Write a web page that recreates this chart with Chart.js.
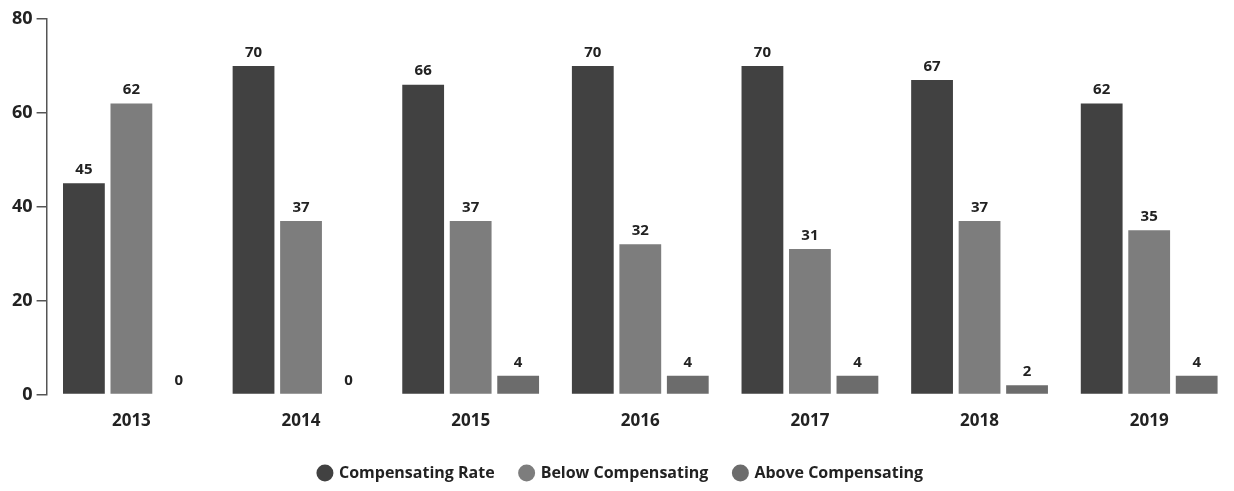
<!DOCTYPE html>
<html>
<head>
<meta charset="utf-8">
<script src="https://cdn.jsdelivr.net/npm/chart.js@4/dist/chart.umd.min.js"></script>
<style>
html,body{margin:0;padding:0;background:#fff;}
#wrap{width:1234px;height:491px;}
</style>
</head>
<body>
<div id="wrap"><canvas id="c" width="1234" height="491"></canvas></div>
<script>
const categories = ['2013','2014','2015','2016','2017','2018','2019'];
const compensatingRate = [45,70,66,70,70,67,62];
const belowCompensating = [62,37,37,32,31,37,35];
const aboveCompensating = [0,0,4,4,4,2,4];
const yTicks = [0,20,40,60,80];

const FONT = '"Open Sans", "Noto Sans", sans-serif';

const valueLabels = {
  id:'valueLabels',
  afterDatasetsDraw(chart){
    const ctx = chart.ctx;
    ctx.save();
    ctx.font = '700 15px ' + FONT;
    ctx.fillStyle = '#222';
    ctx.textAlign = 'center';
    ctx.textBaseline = 'bottom';
    chart.data.datasets.forEach((ds,i)=>{
      const meta = chart.getDatasetMeta(i);
      meta.data.forEach((el,j)=>{
        ctx.fillText(String(ds.data[j]), el.x, el.y - 6);
      });
    });
    ctx.restore();
  }
};

new Chart(document.getElementById('c'),{
  type:'bar',
  data:{
    labels:categories,
    datasets:[
      {label:'Compensating Rate', data:compensatingRate, backgroundColor:'#414141'},
      {label:'Below Compensating', data:belowCompensating, backgroundColor:'#7d7d7d'},
      {label:'Above Compensating', data:aboveCompensating, backgroundColor:'#6c6c6c'}
    ]
  },
  options:{
    responsive:false,
    animation:false,
    layout:{padding:{top:19,right:0,left:8,bottom:0}},
    datasets:{bar:{categoryPercentage:0.84,barPercentage:0.88}},
    plugins:{
      legend:{
        position:'bottom',
        labels:{usePointStyle:true,pointStyle:'circle',boxWidth:12,boxHeight:12,padding:26,color:'#222',font:{family:FONT,size:16,weight:'700'}}
      },
      tooltip:{enabled:false}
    },
    scales:{
      x:{
        grid:{display:false},
        border:{display:false},
        ticks:{color:'#222',font:{family:FONT,size:17,weight:'700'},padding:8}
      },
      y:{
        min:0,max:80,
        afterBuildTicks(axis){ axis.ticks = yTicks.map(v=>({value:v})); },
        grid:{drawOnChartArea:false,drawTicks:true,tickLength:10,color:'#555',lineWidth:1.5},
        border:{display:true,color:'#555',width:1.5},
        ticks:{color:'#222',font:{family:FONT,size:18,weight:'700'},padding:4}
      }
    }
  },
  plugins:[valueLabels]
});
</script>
</body>
</html>
